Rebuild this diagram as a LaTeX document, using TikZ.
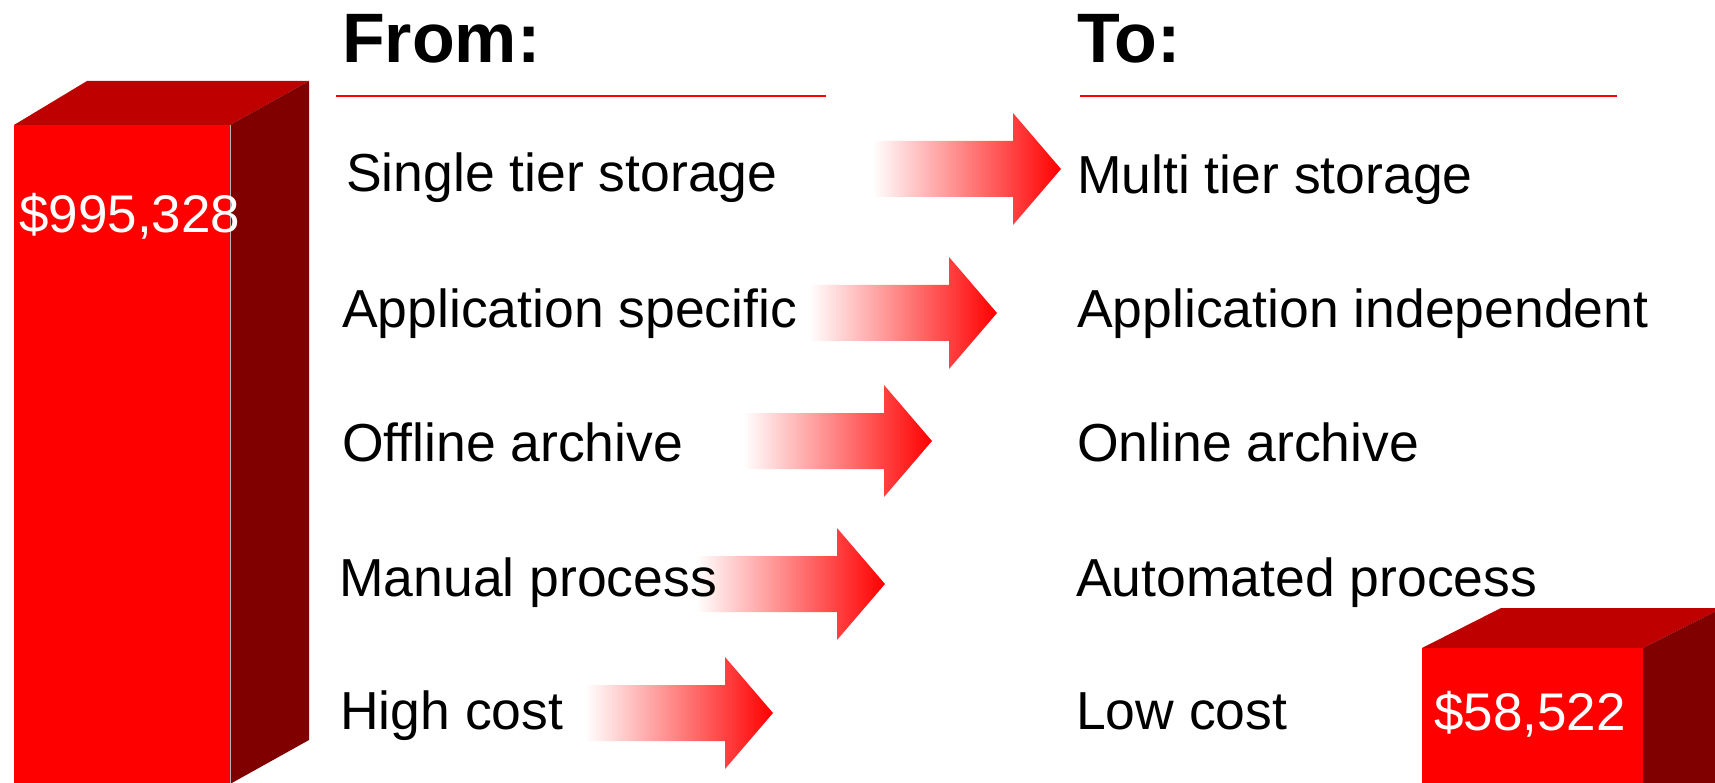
\documentclass[tikz,border=0pt]{standalone}
\usepackage{fontspec}
\setmainfont{Liberation Sans}
\definecolor{cfront}{RGB}{255,0,0}
\definecolor{ctop}{RGB}{190,0,0}
\definecolor{cside}{RGB}{128,0,0}
\tikzset{
  item/.style={anchor=base west, inner sep=0pt, font=\fontsize{53.5}{60}\selectfont},
  heading/.style={anchor=base west, inner sep=0pt, font=\fontsize{70}{80}\selectfont\bfseries},
  val/.style={anchor=base west, inner sep=0pt, text=white, font=\fontsize{53}{60}\selectfont},
  fade/.style={left color=white, right color=red},
  rule/.style={draw=red, line width=2pt},
}
\newcommand\fadearrow[3]{%
  \shade[fade] (#1,#3-28) -- (#2-48,#3-28) -- (#2-48,#3-56) -- (#2,#3)
    -- (#2-48,#3+56) -- (#2-48,#3+28) -- (#1,#3+28) -- cycle;}
\begin{document}
\begin{tikzpicture}[x=1pt,y=-1pt]
\useasboundingbox (0,0) rectangle (1715,783);
\clip (0,0) rectangle (1715,783);
\fill[white] (0,0) rectangle (1715,783);

% big box
\fill[ctop] (14,125) -- (87,81) -- (309,81) -- (230,125) -- cycle;
\fill[cside] (230,125) -- (309,81) -- (309,740) -- (230,784) -- (230,800) -- cycle;
\fill[cfront] (14,125) rectangle (230,800);
\draw[gray!60, line width=0.7pt] (230,125) -- (230,800);
\node[val] (big) at (19,233) {\$995,328};

% small box
\fill[ctop] (1422,648) -- (1501,608) -- (1722,608) -- (1643,648) -- cycle;
\fill[cside] (1643,648) -- (1722,608) -- (1722,800) -- (1643,800) -- cycle;
\fill[cfront] (1422,648) rectangle (1643,800);
\node[val] (small) at (1434,730) {\$58,522};

% headings
\node[heading] (from) at (342,63) {From:};
\draw[rule] (336,96) -- (826,96);
\node[heading] (to) at (1077,63) {To:};
\draw[rule] (1080,96) -- (1617,96);

% arrows
\fadearrow{872}{1061}{169}
\fadearrow{809}{997}{313}
\fadearrow{743}{932}{441}
\fadearrow{696}{885}{584}
\fadearrow{585}{773}{713}

% from items
\node[item] (f1) at (346,192) {Single tier storage};
\node[item] (f2) at (342,328) {Application specific};
\node[item] (f3) at (342,461) {Offline archive};
\node[item] (f4) at (339,596) {Manual process};
\node[item] (f5) at (340,729) {High cost};

% to items
\node[item] (t1) at (1077,194) {Multi tier storage};
\node[item] (t2) at (1077,328) {Application independent};
\node[item] (t3) at (1077,461) {Online archive};
\node[item] (t4) at (1076,596) {Automated process};
\node[item] (t5) at (1076,729) {Low cost};
\end{tikzpicture}
\end{document}
